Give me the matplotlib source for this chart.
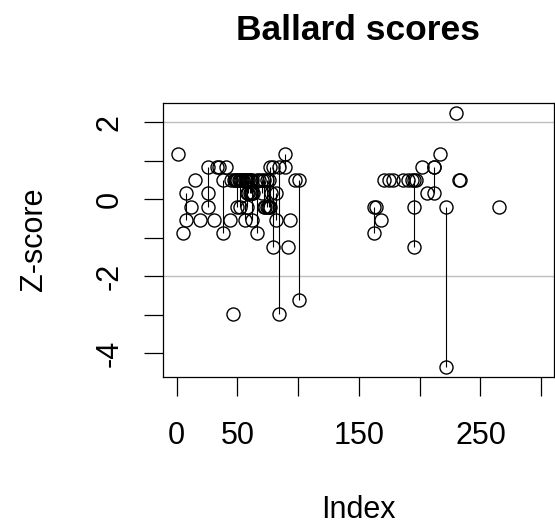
import matplotlib.pyplot as plt
from collections import defaultdict

plt.rcParams['font.family'] = ['Liberation Sans', 'DejaVu Sans']

# index and z-score of every Ballard score
idx = [1, 5, 8, 8, 12, 15, 19, 26, 26, 26, 31, 33, 35, 38, 38, 41, 44, 46,
       45, 47, 48, 49, 50, 51, 52, 53, 54, 55, 56, 57, 58, 59, 60, 61, 62,
       58, 59, 60, 61, 62, 63,
       66, 68, 70, 72, 74, 76,
       72, 73, 74, 75, 76, 77,
       50, 52, 58, 56, 62, 66, 70, 78,
       77, 79, 79, 82, 82, 84, 84, 89, 89, 92, 93, 97, 101, 101,
       162, 162, 164, 168, 171, 175, 178, 186, 190, 194,
       195, 195, 195, 197, 202, 206, 212, 212, 212, 217,
       222, 222, 230, 232, 233, 265]
z = [1.19, -0.88, 0.16, -0.54, -0.19, 0.50, -0.54, 0.85, 0.16, -0.19, -0.54,
     0.85, 0.85, 0.50, -0.88, 0.85, -0.54, -2.97,
     0.50, 0.50, 0.50, 0.50, 0.50, 0.50, 0.50, 0.50, 0.50, 0.50, 0.50, 0.50,
     0.50, 0.50, 0.50, 0.50, 0.50,
     0.16, 0.16, 0.16, 0.16, 0.16, 0.16,
     0.50, 0.50, 0.50, 0.50, 0.50, 0.50,
     -0.19, -0.19, -0.19, -0.19, -0.19, -0.19,
     -0.19, -0.19, -0.19, -0.54, -0.54, -0.88, 0.16, 0.16,
     0.85, 0.85, -1.23, 0.16, -0.54, 0.85, -2.97, 1.19, 0.85, -1.23, -0.54,
     0.50, 0.50, -2.62,
     -0.19, -0.88, -0.19, -0.54, 0.50, 0.50, 0.50, 0.50, 0.50, 0.50,
     0.50, -0.19, -1.23, 0.50, 0.85, 0.16, 0.85, 0.85, 0.16, 1.19,
     -0.19, -4.36, 2.24, 0.50, 0.50, -0.19]

xticks = [0, 50, 100, 150, 200, 250, 300]
xticklabels = ['0', '50', '', '150', '', '250', '']
yticks = [-4, -3, -2, -1, 0, 1, 2]
yticklabels = ['-4', '', '-2', '', '0', '', '2']

fig = plt.figure(figsize=(5.55, 5.26), dpi=100)
ax = fig.add_axes([0.2942, 0.2838, 0.704, 0.5203])

ax.axhline(2, color='#bebebe', lw=1.0, zorder=1)
ax.axhline(-2, color='#bebebe', lw=1.0, zorder=1)

# join scores sharing the same index
groups = defaultdict(list)
for xi, zi in zip(idx, z):
    groups[xi].append(zi)
for xi, vals in groups.items():
    if len(vals) > 1:
        ax.vlines(xi, min(vals), max(vals), color='black', lw=0.8, zorder=2)

ax.plot(idx, z, 'o', mfc='none', mec='black', ms=9.4, mew=1.0, ls='none', zorder=3)

ax.set_xlim(-11.0, 310.5)
ax.set_ylim(-4.608, 2.501)
ax.set_xticks(xticks)
ax.set_xticklabels(xticklabels)
ax.set_yticks(yticks)
ax.set_yticklabels(yticklabels, rotation=90, va='center')
ax.tick_params(direction='out', length=14, width=0.9, labelsize=22, pad=18)
ax.tick_params(axis='y', pad=14)
for s in ax.spines.values():
    s.set_linewidth(0.9)

fig.text(358 / 555, 1 - 40.5 / 526, 'Ballard scores', ha='center', va='baseline',
         fontsize=25.5, fontweight='bold')
fig.text(358.3 / 555, 1 - 518 / 526, 'Index', ha='center', va='baseline', fontsize=22)
fig.text(42 / 555, 1 - 239 / 526, 'Z-score', rotation=90, rotation_mode='anchor',
         ha='center', va='baseline', fontsize=22)

fig.savefig('out.png', dpi=100)
